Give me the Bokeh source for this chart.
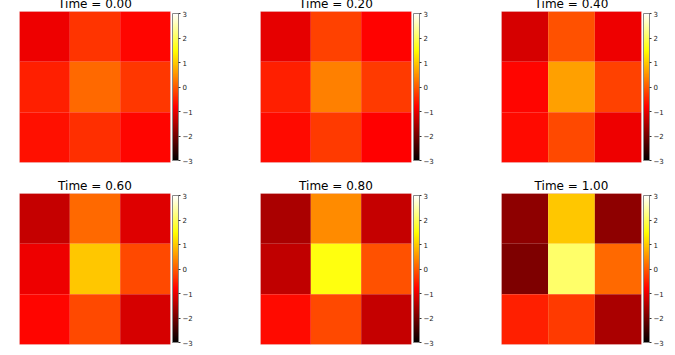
from bokeh.plotting import figure
from bokeh.layouts import row, column
from bokeh.models import LinearColorMapper, ColorBar, FixedTicker, ColumnDataSource
from bokeh.embed import file_html
from bokeh.resources import INLINE

# ---- data (rows listed top to bottom, columns left to right) ----
times = [0.00, 0.20, 0.40, 0.60, 0.80, 1.00]
grid_t000 = [[-0.94, -0.35, -0.77], [-0.52, 0.12, -0.32], [-0.67, -0.38, -0.76]]
grid_t020 = [[-1.01, -0.23, -0.79], [-0.52, 0.33, -0.30], [-0.72, -0.30, -0.80]]
grid_t040 = [[-1.15, -0.09, -0.94], [-0.77, 0.63, -0.23], [-0.72, -0.16, -0.94]]
grid_t060 = [[-1.29, 0.12, -1.08], [-0.95, 0.97, -0.16], [-0.76, -0.16, -1.15]]
grid_t080 = [[-1.54, 0.44, -1.29], [-1.35, 1.55, -0.09], [-0.72, -0.16, -1.29]]
grid_t100 = [[-1.76, 0.97, -1.76], [-1.90, 2.09, 0.12], [-0.52, -0.30, -1.54]]
grids = [grid_t000, grid_t020, grid_t040, grid_t060, grid_t080, grid_t100]
vmin, vmax = -3, 3
cbar_ticks = [-3, -2, -1, 0, 1, 2, 3]


def hot_palette(n=256):
    cols = []
    for i in range(n):
        t = i / (n - 1)
        r = min(max(t / 0.365079, 0), 1)
        g = min(max((t - 0.365079) / (0.746032 - 0.365079), 0), 1)
        b = min(max((t - 0.746032) / (1 - 0.746032), 0), 1)
        cols.append("#%02x%02x%02x" % (round(r * 255), round(g * 255), round(b * 255)))
    return cols


palette = hot_palette()
mapper = LinearColorMapper(palette=palette, low=vmin, high=vmax)

FW = 151
COLW = 241
LEFT = 11
TOP = 17


def panel(idx, grid, t):
    r_i, c_i = divmod(idx, 3)
    xs, ys, vals = [], [], []
    for ri, rowvals in enumerate(grid):
        for ci, v in enumerate(rowvals):
            xs.append(ci)
            ys.append(2 - ri)
            vals.append(v)
    src = ColumnDataSource(dict(x=xs, y=ys, v=vals))
    w = 178 if c_i == 2 else COLW
    bottom = 14 if r_i == 0 else 6
    p = figure(width=w, height=TOP + FW + bottom,
               x_range=(-0.5, 2.5), y_range=(-0.5, 2.5),
               output_backend="svg", toolbar_location=None,
               min_border_left=LEFT, min_border_right=w - LEFT - FW,
               min_border_top=TOP, min_border_bottom=bottom,
               title="Time = %.2f" % t)
    p.title.text_font = "DejaVu Sans"
    p.title.text_font_size = "12px"
    p.title.text_font_style = "normal"
    p.title.text_color = "#000000"
    p.title.align = "center"
    p.title.standoff = 1
    p.rect(x="x", y="y", width=1, height=1, source=src,
           fill_color={"field": "v", "transform": mapper}, line_color=None)
    p.xaxis.visible = False
    p.yaxis.visible = False
    p.xgrid.visible = False
    p.ygrid.visible = False
    p.outline_line_color = "#f2d0d0"
    p.outline_line_width = 1
    cb = ColorBar(color_mapper=mapper, ticker=FixedTicker(ticks=cbar_ticks),
                  width=6, padding=2, margin=0, location=(0, 0),
                  major_label_text_font_size="7px",
                  major_label_text_font="DejaVu Sans",
                  major_label_text_color="#222222",
                  major_label_overrides={k: str(k).replace("-", "\u2212") for k in cbar_ticks},
                  major_tick_line_color="#333333", major_tick_in=0, major_tick_out=2,
                  minor_tick_line_color=None,
                  bar_line_color="#888888", bar_line_width=1,
                  label_standoff=2, background_fill_alpha=0,
                  border_line_color=None)
    p.add_layout(cb, "right")
    p.background_fill_color = "white"
    p.border_fill_color = "white"
    return p


plots = [panel(i, g, t) for i, (g, t) in enumerate(zip(grids, times))]
layout = column(row(*plots[:3], spacing=0), row(*plots[3:], spacing=0),
                spacing=0, margin=(-6, 0, 0, 8))

open("out.html", "w").write(file_html(layout, INLINE))
